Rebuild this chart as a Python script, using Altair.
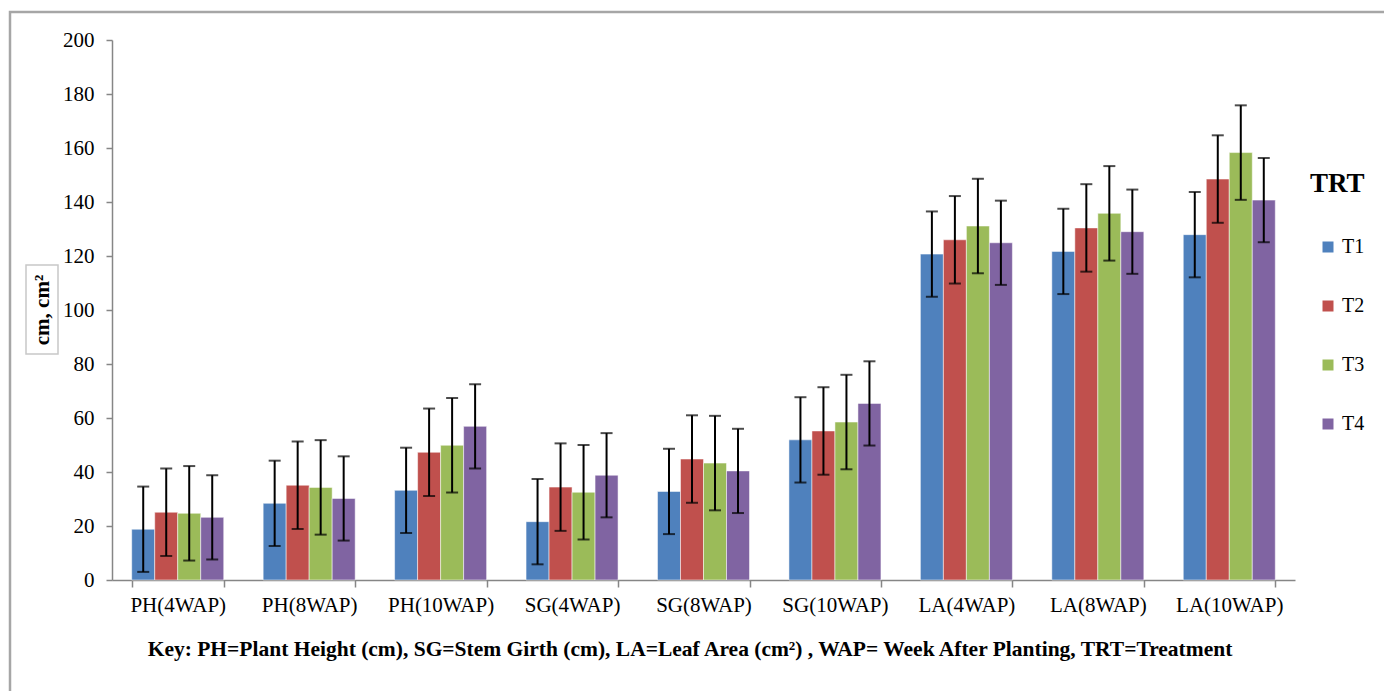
import altair as alt
import pandas as pd

categories = ["PH(4WAP)", "PH(8WAP)", "PH(10WAP)", "SG(4WAP)", "SG(8WAP)",
              "SG(10WAP)", "LA(4WAP)", "LA(8WAP)", "LA(10WAP)"]
treatments = ["T1", "T2", "T3", "T4"]
T1 = [18.8, 28.4, 33.2, 21.6, 32.8, 51.9, 120.7, 121.7, 127.9]
T2 = [25.1, 35.1, 47.3, 34.4, 44.8, 55.2, 126.0, 130.4, 148.5]
T3 = [24.7, 34.3, 49.9, 32.5, 43.3, 58.5, 131.1, 135.8, 158.3]
T4 = [23.2, 30.2, 56.9, 38.8, 40.4, 65.4, 124.9, 129.0, 140.7]
errors = {"T1": 15.8, "T2": 16.2, "T3": 17.5, "T4": 15.6}
colors = ["#4F81BD", "#C0504D", "#9BBB59", "#8064A2"]
y_title = "cm, cm²"
key_text = "Key: PH=Plant Height (cm), SG=Stem Girth (cm), LA=Leaf Area (cm²) , WAP= Week After Planting, TRT=Treatment"

series = {"T1": T1, "T2": T2, "T3": T3, "T4": T4}
rows = []
for t in treatments:
    for c, v in zip(categories, series[t]):
        e = errors[t]
        rows.append({"cat": c, "TRT": t, "value": v, "lo": v - e, "hi": v + e})
df = pd.DataFrame(rows)

FONT = "Liberation Serif"
W, H = 1183, 540

x_axis = alt.Axis(tickBand="extent", labelAngle=0, labelFont=FONT,
                  labelFontSize=21, labelColor="#000", labelPadding=7,
                  tickSize=7, domainColor="#868686", tickColor="#868686",
                  domainWidth=1.5, tickWidth=1.5, title=None)
y_axis = alt.Axis(values=list(range(0, 201, 20)), grid=False, labelFont=FONT,
                  labelFontSize=21, labelColor="#000", tickSize=6,
                  domainColor="#868686", tickColor="#868686", domainWidth=1.5,
                  tickWidth=1.5, labelPadding=12, title=None)

x = alt.X("cat:N", sort=categories, title=None,
          scale=alt.Scale(paddingInner=0.3, paddingOuter=0.15), axis=x_axis)
xo = alt.XOffset("TRT:N", sort=treatments, scale=alt.Scale(paddingInner=0, paddingOuter=0))
yscale = alt.Scale(domain=[0, 200])

bars = alt.Chart(df).mark_bar(stroke="white", strokeOpacity=0.5, strokeWidth=1).encode(
    x=x,
    xOffset=xo,
    y=alt.Y("value:Q", scale=yscale, axis=y_axis, title=None),
    color=alt.Color("TRT:N", sort=treatments,
                    scale=alt.Scale(domain=treatments, range=colors),
                    legend=alt.Legend(title="TRT", orient="none", legendX=1198, legendY=131,
                                      titleFont=FONT, titleFontSize=27, titleFontWeight="bold",
                                      titleColor="#000", labelFont=FONT, labelFontSize=20,
                                      labelColor="#000", symbolType="square", symbolSize=121,
                                      symbolStrokeWidth=0, symbolOffset=8, rowPadding=39,
                                      titlePadding=39, labelOffset=4)),
)

rules = alt.Chart(df).mark_rule(color="black", strokeWidth=2).encode(
    x=x, xOffset=xo,
    y=alt.Y("lo:Q", scale=yscale, axis=y_axis, title=None), y2="hi:Q")
caps_hi = alt.Chart(df).mark_tick(color="black", thickness=2, size=12).encode(
    x=x, xOffset=xo, y=alt.Y("hi:Q", scale=yscale, axis=y_axis, title=None))
caps_lo = alt.Chart(df).mark_tick(color="black", thickness=2, size=12).encode(
    x=x, xOffset=xo, y=alt.Y("lo:Q", scale=yscale, axis=y_axis, title=None))

box_df = pd.DataFrame({"k": [1]})
title_box = alt.Chart(box_df).mark_rect(fill="white", stroke="#C8C8C8", strokeWidth=1.5).encode(
    x=alt.value(-86), x2=alt.value(-54), y=alt.value(225), y2=alt.value(314))
title_txt = alt.Chart(pd.DataFrame({"t": [y_title]})).mark_text(
    font=FONT, fontSize=21, fontWeight="bold", color="#000", angle=270,
    align="center", baseline="middle").encode(
    text="t:N", x=alt.value(-69), y=alt.value(270))
key_txt = alt.Chart(pd.DataFrame({"t": [key_text]})).mark_text(
    font=FONT, fontSize=21.5, fontWeight="bold", color="#000",
    align="center", baseline="middle").encode(
    text="t:N", x=alt.value(578), y=alt.value(610))
frame = alt.Chart(box_df).mark_rect(fill=None, stroke="#A6A6A6", strokeWidth=2.5, clip=False).encode(
    x=alt.value(-102), x2=alt.value(1400), y=alt.value(-28), y2=alt.value(800))

chart = alt.layer(frame, title_box, title_txt, key_txt, bars, rules, caps_lo, caps_hi).properties(
    width=W, height=H,
    autosize=alt.AutoSizeParams(type="none"),
    padding={"left": 104, "top": 32, "right": 89, "bottom": 111},
).configure_view(stroke=None)

chart.save("out.html", embed_options={"renderer": "svg", "actions": False})
